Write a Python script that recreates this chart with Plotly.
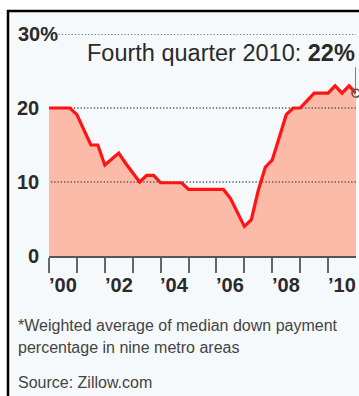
import plotly.graph_objects as go

# ---- data ----
start_year = 2000
down_payment = [20, 20, 20, 20, 19.1, 17, 15, 15, 12.3, 13.1, 13.9, 12.5,
                11.2, 10, 10.9, 10.9, 9.9, 9.9, 9.9, 9.9, 9, 9, 9, 9, 9, 9,
                7.8, 5.9, 4, 4.9, 8.9, 12, 13, 16, 19.1, 20, 20, 21, 22, 22,
                22, 23, 22, 23, 22]
quarter_x = [start_year + i / 4 for i in range(len(down_payment))]
tick_years = list(range(2000, 2011))
label_years = [2000, 2002, 2004, 2006, 2008, 2010]
label_texts = ["\u201900", "\u201902", "\u201904", "\u201906", "\u201908", "\u201910"]
y_ticks = [0, 10, 20, 30]
y_tick_texts = ["0", "10", "20", "30%"]
grid_levels = [10, 20, 30]
title_text = "Fourth quarter 2010: <b>22%</b>"
footnote_lines = ["*Weighted average of median down payment",
                  "percentage in nine metro areas"]
source_text = "Source: Zillow.com"

# ---- layout geometry ----
W, H = 359, 396
L, R, T, B = 49, 3, 34, 140
PW = W - L - R
PH = H - T - B
PLOT_BOTTOM = H - B


def px_x(p):
    return (p - L) / PW


def px_y(p):
    return (PLOT_BOTTOM - p) / PH


FONT = "Liberation Sans, Arial, sans-serif"
x_end = quarter_x[-1]

fig = go.Figure()

# area fill
fig.add_trace(go.Scatter(x=quarter_x, y=down_payment, mode="lines",
                         line=dict(width=0, color="rgba(0,0,0,0)"),
                         fill="tozeroy", fillcolor="#fbbba8",
                         hoverinfo="skip"))

# dotted gridlines (drawn over fill, under line)
for g in grid_levels:
    x0 = start_year + (0.22 if g == 30 else -0.05)
    fig.add_trace(go.Scatter(x=[x0, x_end], y=[g, g], mode="lines",
                             line=dict(color="#555555", width=1.3, dash="1.3px,2px"),
                             hoverinfo="skip", cliponaxis=False))

# red line
fig.add_trace(go.Scatter(x=quarter_x, y=down_payment, mode="lines",
                         line=dict(color="#ff1414", width=3.2),
                         hoverinfo="skip", cliponaxis=False))

# leader + end marker
fig.add_trace(go.Scatter(x=[x_end, x_end], y=[22.6, 25.5], mode="lines",
                         line=dict(color="#555555", width=1.5),
                         hoverinfo="skip", cliponaxis=False))
fig.add_trace(go.Scatter(x=[x_end], y=[down_payment[-1]], mode="markers",
                         marker=dict(symbol="circle-open", size=8,
                                     color="#555555", line=dict(width=1.6)),
                         hoverinfo="skip", cliponaxis=False))

annotations = []
# y labels
for v, t in zip(y_ticks, y_tick_texts):
    if t.endswith("%"):
        annotations.append(dict(xref="paper", yref="y", x=px_x(16), y=v,
                                text="<b>" + t + "</b>", xanchor="left",
                                yanchor="middle", showarrow=False,
                                font=dict(family=FONT, size=20, color="#2a2a2a")))
    else:
        annotations.append(dict(xref="paper", yref="y", x=px_x(41), y=v,
                                text="<b>" + t + "</b>", xanchor="right",
                                yanchor="middle", showarrow=False,
                                font=dict(family=FONT, size=20, color="#2a2a2a")))

# x labels centred in year
for yr, t in zip(label_years, label_texts):
    annotations.append(dict(xref="x", yref="paper", x=yr + 0.5, y=px_y(285),
                            text="<b>" + t + "</b>", xanchor="center",
                            yanchor="middle", showarrow=False,
                            font=dict(family=FONT, size=20, color="#2a2a2a")))

# title
annotations.append(dict(xref="paper", yref="paper", x=px_x(357), y=px_y(53),
                        text=title_text, xanchor="right", yanchor="middle",
                        showarrow=False,
                        font=dict(family=FONT, size=23.5, color="#2a2a2a")))

# footnotes
for i, line in enumerate(footnote_lines):
    annotations.append(dict(xref="paper", yref="paper", x=px_x(16),
                            y=px_y(325 + 22 * i), text=line,
                            xanchor="left", yanchor="middle", showarrow=False,
                            font=dict(family=FONT, size=16, color="#444444")))
annotations.append(dict(xref="paper", yref="paper", x=px_x(16), y=px_y(382),
                        text=source_text, xanchor="left", yanchor="middle",
                        showarrow=False,
                        font=dict(family=FONT, size=16, color="#444444")))

shapes = [
    # panel background
    dict(type="rect", xref="paper", yref="paper", layer="below",
         x0=px_x(9), x1=px_x(359), y0=px_y(396), y1=px_y(12),
         fillcolor="#f6f9fb", line=dict(width=0)),
    # top frame line
    dict(type="line", xref="paper", yref="paper",
         x0=px_x(7), x1=px_x(359), y0=px_y(11), y1=px_y(11),
         line=dict(color="#000000", width=2.5)),
    # left frame line
    dict(type="line", xref="paper", yref="paper",
         x0=px_x(8), x1=px_x(8), y0=px_y(10), y1=px_y(396),
         line=dict(color="#000000", width=2.5)),
]

fig.update_layout(
    width=W, height=H,
    margin=dict(l=L, r=R, t=T, b=B),
    paper_bgcolor="#ffffff",
    plot_bgcolor="rgba(0,0,0,0)",
    showlegend=False,
    annotations=annotations,
    shapes=shapes,
    xaxis=dict(range=[2000, 2011], tickvals=tick_years, showticklabels=False,
               ticks="outside", ticklen=15, tickwidth=1.5, tickcolor="#666666",
               showline=True, linecolor="#555555", linewidth=2,
               showgrid=False, zeroline=False, fixedrange=True),
    yaxis=dict(range=[0, 30], visible=False, fixedrange=True),
)

fig.write_html("out.html", config={"displayModeBar": False})
